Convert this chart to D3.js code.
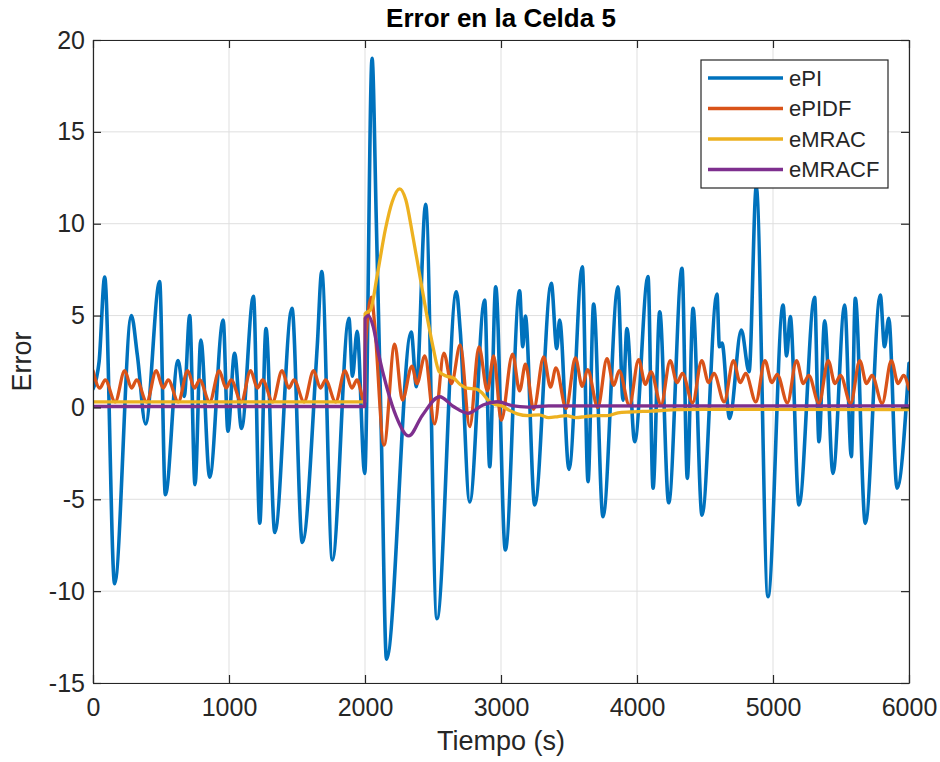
<!DOCTYPE html>
<html>
<head>
<meta charset="utf-8">
<script src="https://cdn.jsdelivr.net/npm/d3@7/dist/d3.min.js"></script>
<style>
  html, body { margin: 0; padding: 0; background: #fff; }
  svg { display: block; font-family: "Liberation Sans", Arial, Helvetica, sans-serif; }
</style>
</head>
<body>
<svg id="chart" width="940" height="762"></svg>
<script>
// Time (s) / error pairs for each controller, cell 5
const ePI = [
  [0, 1.0], [45, 2.5], [86, 7.1], [159, -9.6], [282, 5.0], [326, 2.85], [387, -0.9],
  [490, 6.85], [532, -4.75], [625, 2.55], [671, 0.6], [711, 5.0], [750, -4.2],
  [793, 3.67], [858, -3.8], [957, 4.75], [992, -1.3], [1041, 2.95], [1092, -1.15],
  [1180, 6.05], [1226, -6.3], [1272, 4.3], [1337, -6.8], [1463, 5.4], [1539, -7.35],
  [1649, 3.35], [1682, 7.4], [1760, -8.3], [1882, 4.85], [1908, 1.7], [1942, 4.15],
  [1998, -3.6], [2052, 19.0], [2083, 10.2], [2120, -1.5], [2158, -13.7], [2340, 4.1],
  [2378, 1.13], [2446, 11.05], [2529, -11.5], [2672, 6.3], [2700, 4.2], [2770, -5.15],
  [2880, 5.85], [2917, -3.23], [2961, 6.57], [3032, -7.76], [3137, 6.35], [3160, 3.3],
  [3179, 4.97], [3248, -5.31], [3370, 6.75], [3410, 3.2], [3431, 4.76], [3500, -3.37],
  [3598, 7.66], [3640, -4.04], [3681, 5.63], [3750, -5.95], [3860, 6.57], [3897, 0.4],
  [3926, 4.3], [3983, -1.87], [4081, 7.12], [4118, -4.4], [4167, 5.21], [4233, -5.19],
  [4331, 7.57], [4370, -3.86], [4412, 5.39], [4478, -5.86], [4588, 6.17], [4606, 3.3],
  [4625, 3.5], [4681, -0.6], [4767, 4.21], [4824, 1.95], [4877, 12.0], [4963, -10.3],
  [5074, 5.57], [5100, 2.8], [5127, 4.94], [5191, -5.31], [5306, 5.99], [5338, -1.87],
  [5380, 4.72], [5441, -3.59], [5527, 5.57], [5576, -2.68], [5605, 5.94], [5679, -6.31],
  [5789, 6.12], [5820, 3.3], [5851, 4.85], [5912, -4.4], [6000, 2.4]
];

const ePIDF = [
  [0, 2.0], [50, 1.05], [90, 1.5], [163, 0.3],
  [233, 2.0], [283, 1.05], [321, 1.5], [395, 0.3],
  [465, 2.0], [515, 1.05], [553, 1.5], [627, 0.3],
  [696, 2.0], [746, 1.05], [784, 1.5], [858, 0.3],
  [928, 2.0], [978, 1.05], [1016, 1.5], [1090, 0.3],
  [1159, 2.0], [1209, 1.05], [1247, 1.5], [1321, 0.3],
  [1390, 2.0], [1440, 1.05], [1478, 1.5], [1552, 0.3],
  [1622, 2.0], [1672, 1.05], [1710, 1.5], [1784, 0.3],
  [1853, 2.0], [1903, 1.05], [1941, 1.5], [1995, 0.35],
  [2005, 3.5], [2048, 6.0], [2070, 4.6], [2140, -2.05], [2218, 3.45], [2275, 0.4],
  [2345, 2.25], [2382, 1.3], [2440, 2.8], [2512, -0.9], [2580, 2.95], [2636, 1.3],
  [2700, 3.4], [2770, -1.05], [2838, 3.3], [2900, 0.9], [2946, 2.8], [3002, -0.7],
  [3085, 2.9], [3137, 0.9], [3180, 2.35], [3240, -0.1],
  [3314, 2.75], [3364, 1.1], [3404, 2.15], [3479, -0.05],
  [3547, 2.7], [3597, 1.15], [3637, 2.05], [3712, 0.0],
  [3779, 2.65], [3829, 1.2], [3869, 2.0], [3944, 0.1],
  [4012, 2.6], [4062, 1.25], [4102, 1.95], [4177, 0.15],
  [4244, 2.55], [4294, 1.35], [4334, 1.85], [4409, 0.25],
  [4476, 2.55], [4526, 1.35], [4566, 1.85], [4641, 0.3],
  [4709, 2.55], [4759, 1.35], [4799, 1.85], [4874, 0.3],
  [4941, 2.55], [4991, 1.35], [5031, 1.8], [5106, 0.25],
  [5173, 2.55], [5223, 1.3], [5263, 1.75], [5338, 0.22],
  [5406, 2.55], [5456, 1.3], [5496, 1.75], [5571, 0.22],
  [5638, 2.55], [5688, 1.3], [5728, 1.75], [5803, 0.22],
  [5870, 2.55], [5920, 1.3], [5960, 1.75], [6000, 1.0]
];

const eMRAC = [
  [0, 0.3], [1998, 0.3], [2001, 5.1], [2040, 5.3], [2090, 7.2], [2150, 9.7],
  [2200, 11.2], [2255, 11.9], [2300, 11.3], [2350, 9.4], [2400, 7.3], [2450, 5.2],
  [2500, 3.3], [2545, 1.95], [2600, 1.7], [2650, 1.6], [2700, 1.25], [2750, 1.05],
  [2820, 1.0], [2860, 0.8], [2910, 0.35], [2960, 0.15], [3000, 0.1], [3060, -0.15],
  [3120, -0.35], [3200, -0.45], [3280, -0.4], [3350, -0.55], [3420, -0.5], [3480, -0.45],
  [3550, -0.55], [3620, -0.5], [3700, -0.45], [3780, -0.45], [3860, -0.3], [3950, -0.25],
  [4100, -0.2], [4300, -0.12], [4500, -0.1], [6000, -0.12]
];

const eMRACF = [
  [0, 0.05], [1998, 0.05], [2001, 4.85], [2025, 5.0], [2060, 4.4], [2100, 2.9],
  [2160, 1.1], [2230, -0.5], [2322, -1.55], [2420, -0.45], [2549, 0.58], [2650, 0.05],
  [2757, -0.32], [2868, 0.13], [2978, 0.31], [3080, 0.1], [3200, 0.02], [3350, 0.08],
  [6000, 0.08]
];

const seriesNames = ["ePI", "ePIDF", "eMRAC", "eMRACF"];
const seriesColors = ["#0072BD", "#D95319", "#EDB120", "#7E2F8E"];
const xTicks = [0, 1000, 2000, 3000, 4000, 5000, 6000];
const yTicks = [-15, -10, -5, 0, 5, 10, 15, 20];

const svg = d3.select("#chart");
const m = { left: 93, right: 909, top: 40, bottom: 683 };

const x = d3.scaleLinear().domain([0, 6000]).range([m.left, m.right]);
const y = d3.scaleLinear().domain([-15, 20]).range([m.bottom, m.top]);

const axisColor = "#262626";
const gridColor = "#dfdfdf";
const plainNum = d => String(d);   // no thousands separator, ASCII hyphen for negatives

// grid
const grid = svg.append("g");
grid.selectAll("line.gx").data(xTicks).join("line")
  .attr("x1", d => x(d)).attr("x2", d => x(d))
  .attr("y1", m.top).attr("y2", m.bottom)
  .attr("stroke", gridColor).attr("stroke-width", 1);
grid.selectAll("line.gy").data(yTicks).join("line")
  .attr("y1", d => y(d)).attr("y2", d => y(d))
  .attr("x1", m.left).attr("x2", m.right)
  .attr("stroke", gridColor).attr("stroke-width", 1);

// data lines
svg.append("clipPath").attr("id", "plotClip").append("rect")
  .attr("x", m.left).attr("y", m.top)
  .attr("width", m.right - m.left).attr("height", m.bottom - m.top);

const line = d3.line().x(d => x(d[0])).y(d => y(d[1])).curve(d3.curveMonotoneX);
const allSeries = [ePI, ePIDF, eMRAC, eMRACF];
const plot = svg.append("g").attr("clip-path", "url(#plotClip)");
allSeries.forEach((s, i) => {
  plot.append("path").datum(s)
    .attr("d", line)
    .attr("fill", "none")
    .attr("stroke", seriesColors[i])
    .attr("stroke-width", i === 0 ? 3.6 : 3.3)
    .attr("stroke-linejoin", "round")
    .attr("stroke-linecap", "round");
});

// axes (box with inward ticks on all sides)
const tickLen = 8;
const fontTick = 25;

const axB = svg.append("g").attr("transform", `translate(0,${m.bottom})`)
  .call(d3.axisBottom(x).tickValues(xTicks).tickFormat(plainNum)
    .tickSizeInner(-tickLen).tickSizeOuter(0).tickPadding(15));
const axT = svg.append("g").attr("transform", `translate(0,${m.top})`)
  .call(d3.axisTop(x).tickValues(xTicks).tickSizeInner(-tickLen).tickSizeOuter(0).tickFormat(""));
const axL = svg.append("g").attr("transform", `translate(${m.left},0)`)
  .call(d3.axisLeft(y).tickValues(yTicks).tickFormat(plainNum)
    .tickSizeInner(-tickLen).tickSizeOuter(0).tickPadding(8));
const axR = svg.append("g").attr("transform", `translate(${m.right},0)`)
  .call(d3.axisRight(y).tickValues(yTicks).tickSizeInner(-tickLen).tickSizeOuter(0).tickFormat(""));

[axB, axT, axL, axR].forEach(a => {
  a.select(".domain").attr("stroke", axisColor).attr("stroke-width", 1.2);
  a.selectAll(".tick line").attr("stroke", axisColor).attr("stroke-width", 1.2);
  a.selectAll(".tick text").attr("fill", axisColor)
    .attr("font-size", fontTick)
    .attr("font-family", "Liberation Sans, Arial, sans-serif");
});
axB.selectAll(".tick text").attr("dy", "0.71em");

// titles
svg.append("text")
  .attr("x", (m.left + m.right) / 2).attr("y", 27)
  .attr("text-anchor", "middle")
  .attr("font-size", 26).attr("font-weight", "bold").attr("fill", "#000")
  .text("Error en la Celda 5");

svg.append("text")
  .attr("x", (m.left + m.right) / 2).attr("y", 750)
  .attr("text-anchor", "middle")
  .attr("font-size", 27).attr("fill", axisColor)
  .text("Tiempo (s)");

svg.append("text")
  .attr("transform", `translate(31,${(m.top + m.bottom) / 2}) rotate(-90)`)
  .attr("text-anchor", "middle")
  .attr("font-size", 27).attr("fill", axisColor)
  .text("Error");

// legend
const lg = svg.append("g");
lg.append("rect")
  .attr("x", 701).attr("y", 60).attr("width", 187).attr("height", 128)
  .attr("fill", "#fff").attr("stroke", axisColor).attr("stroke-width", 1.2);
seriesNames.forEach((name, i) => {
  const yy = 78 + i * 30.5;
  lg.append("line")
    .attr("x1", 708).attr("x2", 783).attr("y1", yy).attr("y2", yy)
    .attr("stroke", seriesColors[i]).attr("stroke-width", 3.4);
  lg.append("text")
    .attr("x", 789).attr("y", yy).attr("dy", "0.36em")
    .attr("font-size", 22).attr("fill", axisColor)
    .text(name);
});
</script>
</body>
</html>
